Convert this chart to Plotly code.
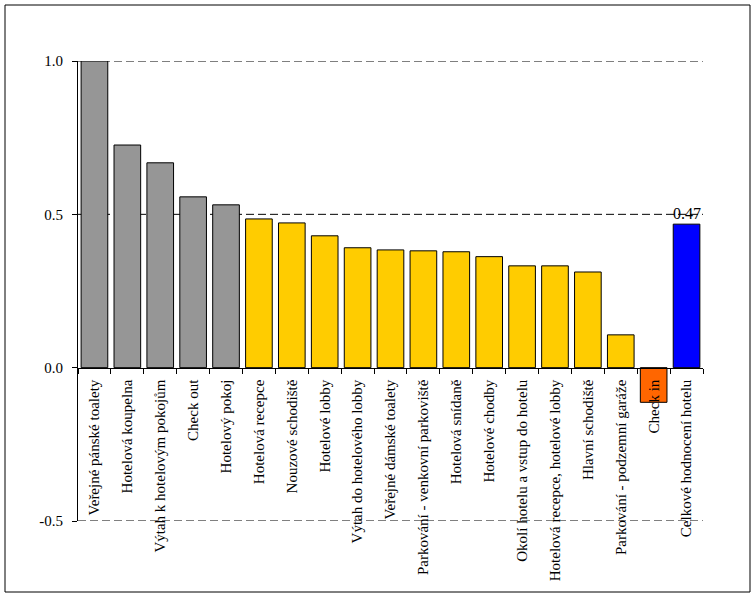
import plotly.graph_objects as go

categories = [
    "Veřejné pánské toalety",
    "Hotelová koupelna",
    "Výtah k hotelovým pokojům",
    "Check out",
    "Hotelový pokoj",
    "Hotelová recepce",
    "Nouzové schodiště",
    "Hotelové lobby",
    "Výtah do hotelového lobby",
    "Veřejné dámské toalety",
    "Parkování - venkovní parkoviště",
    "Hotelová snídaně",
    "Hotelové chodby",
    "Okolí hotelu a vstup do hotelu",
    "Hotelová recepce, hotelové lobby",
    "Hlavní schodiště",
    "Parkování - podzemní garáže",
    "Check in",
    "Celkové hodnocení hotelu",
]
values = [1.0, 0.726, 0.668, 0.557, 0.531, 0.485, 0.472, 0.430, 0.391, 0.384,
          0.381, 0.378, 0.362, 0.332, 0.332, 0.312, 0.107, -0.113, 0.468]
colors = ["#969696"] * 5 + ["#FFCC00"] * 12 + ["#FF6600", "#0000FF"]
y_ticks = [-0.5, 0.0, 0.5, 1.0]
y_tick_labels = ["-0.5", "0.0", "0.5", "1.0"]
grid_values = [-0.5, 0.5, 1.0]
total_label = "0.47"

FONT = "Times New Roman, Liberation Serif, serif"

fig = go.Figure()
fig.add_trace(go.Bar(
    x=categories, y=values,
    marker=dict(color=colors, line=dict(color="black", width=1)),
    hoverinfo="x+y",
))

for g in grid_values:
    fig.add_hline(y=g, line=dict(color="black", width=1, dash="8px,4px"),
                  layer="below")

fig.add_annotation(
    x=categories[-1], y=values[-1], text=total_label,
    showarrow=False, yanchor="bottom", yshift=0,
    font=dict(family=FONT, size=16, color="black"),
)

W, H = 755, 598
L, R, T, B = 78, 52, 61, 77
pw, ph = W - L - R, H - T - B
fig.add_shape(
    type="rect", xref="paper", yref="paper",
    x0=(5 - L) / pw, x1=(750 - L) / pw,
    y0=(H - B - 592) / ph, y1=(H - B - 5) / ph,
    line=dict(color="black", width=1), fillcolor="rgba(0,0,0,0)",
    layer="below",
)

fig.update_layout(
    width=W, height=H,
    margin=dict(l=L, r=R, t=T, b=B),
    paper_bgcolor="white", plot_bgcolor="white",
    showlegend=False,
    bargap=0.19,
    font=dict(family=FONT, size=15, color="black"),
    xaxis=dict(
        type="category",
        anchor="free", position=1 / 3,
        showline=True, linecolor="black", linewidth=1,
        ticks="outside", ticklen=5, tickcolor="black",
        tickson="boundaries",
        tickangle=-90,
        ticklabelstandoff=5,
        showgrid=False,
        automargin=False,
        tickfont=dict(family=FONT, size=15, color="black"),
    ),
    yaxis=dict(
        range=[-0.5, 1.0],
        tickvals=y_ticks, ticktext=y_tick_labels,
        showline=True, linecolor="black", linewidth=1,
        ticks="outside", ticklen=5, tickcolor="black",
        ticklabelstandoff=6,
        showgrid=False,
        zeroline=False,
        automargin=False,
        tickfont=dict(family=FONT, size=15, color="black"),
    ),
)

fig.write_html("out.html", config={"displayModeBar": False},
               post_script="document.body.style.margin='0';")
